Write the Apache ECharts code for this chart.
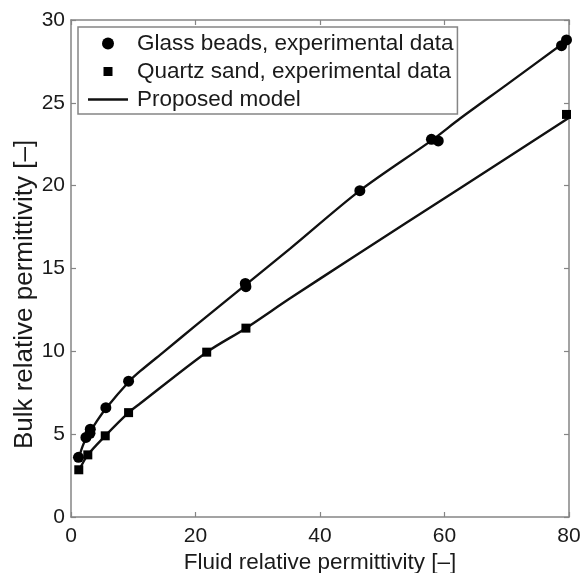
<!DOCTYPE html>
<html>
<head>
<meta charset="utf-8">
<script src="https://cdn.jsdelivr.net/npm/echarts@6/dist/echarts.min.js"></script>
<style>
html,body{margin:0;padding:0;background:#fff;}
#chart{width:586px;height:573px;}
</style>
</head>
<body>
<div id="chart"></div>
<script>
// Experimental data: glass beads
var glassX = [1.2, 2.4, 3.05, 3.1, 5.6, 9.25, 28.0, 28.1, 46.4, 57.9, 59.0, 78.8, 79.6];
var glassY = [3.6, 4.8, 5.05, 5.3, 6.6, 8.2, 14.1, 13.9, 19.7, 22.8, 22.7, 28.45, 28.8];
// Experimental data: quartz sand
var sandX = [1.25, 2.7, 5.5, 9.25, 21.8, 28.1, 79.6];
var sandY = [2.85, 3.75, 4.9, 6.3, 9.95, 11.4, 24.3];
// Proposed model curves
var modelGlassX = [1.2, 2, 3, 4, 5.6, 9.25, 11.1, 15, 20, 28, 35.2, 46.4, 58, 62.5, 70, 80];
var modelGlassY = [3.5, 4.4, 5.1, 5.7, 6.55, 8.15, 8.8, 10.0, 11.55, 14.0, 16.2, 19.7, 22.75, 24.05, 26.1, 28.85];
var modelSandX = [1.2, 2.7, 5.5, 9.25, 11.1, 21.8, 28.1, 35.2, 45, 62.5, 80];
var modelSandY = [2.75, 3.75, 4.9, 6.3, 6.85, 9.95, 11.4, 13.2, 15.6, 19.85, 24.1];
// Axis ticks
var xTicks = [0, 20, 40, 60, 80];
var yTicks = [0, 5, 10, 15, 20, 25, 30];

var names = ['Glass beads, experimental data', 'Quartz sand, experimental data', 'Proposed model'];

function pairs(xs, ys){ return xs.map(function(x,i){ return [x, ys[i]]; }); }

var FONT = 'Liberation Sans';
var AX = '#858585';
var TXT = '#1a1a1a';

var chart = echarts.init(document.getElementById('chart'), null, {renderer:'canvas'});
function axisCommon(show){
  return {
    axisLine:{show:true, onZero:false, lineStyle:{color:AX, width:1.5}},
    axisTick:{show:true, inside:true, length:5, lineStyle:{color:AX, width:1.2}},
    splitLine:{show:false},
    axisLabel:{show:show, color:TXT, fontFamily:FONT, fontSize:21}
  };
}
var xMain = Object.assign(axisCommon(true), {
  type:'value', min:xTicks[0], max:xTicks[xTicks.length-1], interval:xTicks[1]-xTicks[0],
  position:'bottom', name:'Fluid relative permittivity [\u2013]', nameLocation:'middle', nameGap:34,
  nameMoveOverlap:false,
  nameTextStyle:{color:TXT, fontFamily:FONT, fontSize:22.5}
});
xMain.axisLabel.margin = 9;
var xTop = Object.assign(axisCommon(false), {
  type:'value', min:xTicks[0], max:xTicks[xTicks.length-1], interval:xTicks[1]-xTicks[0], position:'top'
});
var yMain = Object.assign(axisCommon(true), {
  type:'value', min:yTicks[0], max:yTicks[yTicks.length-1], interval:yTicks[1]-yTicks[0],
  position:'left', name:'Bulk relative permittivity [\u2013]', nameLocation:'middle', nameGap:33,
  nameMoveOverlap:false,
  nameTextStyle:{color:TXT, fontFamily:FONT, fontSize:26, padding:[0,52,0,0]}
});
yMain.axisLabel.margin = 6;
var yRight = Object.assign(axisCommon(false), {
  type:'value', min:yTicks[0], max:yTicks[yTicks.length-1], interval:yTicks[1]-yTicks[0], position:'right'
});

var option = {
  backgroundColor:'#fff',
  animation:false,
  textStyle:{fontFamily:FONT},
  grid:{left:71, right:17, top:20, bottom:56, containLabel:false, outerBoundsMode:'none'},
  xAxis:[xMain, xTop],
  yAxis:[yMain, yRight],
  legend:{
    orient:'vertical', left:78, top:27,
    padding:[5,4,3,10], itemGap:5,
    itemWidth:40, itemHeight:12,
    borderColor:AX, borderWidth:1.5, backgroundColor:'#fff',
    textStyle:{color:TXT, fontFamily:FONT, fontSize:22.5, padding:[0,0,0,4]},
    itemStyle:{borderWidth:0},
    selectedMode:false,
    data:[
      {name:names[0], icon:'circle'},
      {name:names[1], icon:'path://M0,0 M40,12 M15.5,1.5 L24.5,1.5 L24.5,10.5 L15.5,10.5 Z'},
      {name:names[2], icon:'path://M0,0 M40,12 M0,4.8 L40,4.8 L40,7.2 L0,7.2 Z'}
    ]
  },
  series:[
    {name:names[2], type:'line', data:pairs(modelGlassX, modelGlassY), showSymbol:false, symbol:'none',
     smooth:0.3, lineStyle:{color:'#111', width:2.4}, itemStyle:{color:'#111'}, z:2},
    {name:names[2], type:'line', data:pairs(modelSandX, modelSandY), showSymbol:false, symbol:'none',
     smooth:0.3, lineStyle:{color:'#111', width:2.4}, itemStyle:{color:'#111'}, z:2},
    {name:names[0], type:'scatter', data:pairs(glassX, glassY), symbol:'circle', symbolSize:11,
     itemStyle:{color:'#000', opacity:1}, z:3},
    {name:names[1], type:'scatter', data:pairs(sandX, sandY), symbol:'rect', symbolSize:9,
     itemStyle:{color:'#000', opacity:1}, z:3}
  ]
};
chart.setOption(option);
</script>
</body>
</html>
